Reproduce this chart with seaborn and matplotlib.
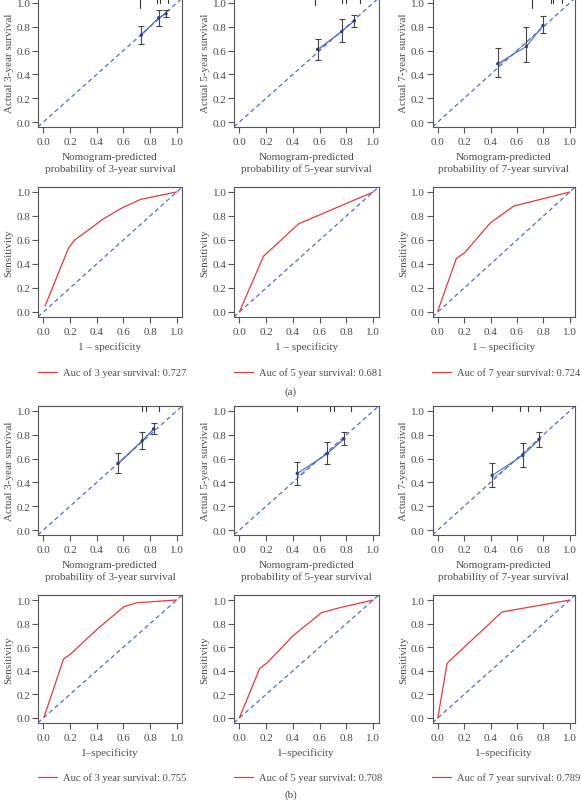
import matplotlib
matplotlib.use('Agg')
import matplotlib.pyplot as plt
import numpy as np
import pandas as pd
import seaborn as sns

# ---- calibration data (nomogram-predicted vs actual) ----
cal_a3_pred = [0.735, 0.865, 0.92]
cal_a3_obs = [0.73, 0.875, 0.91]
cal_a3_lo = [0.655, 0.81, 0.88]
cal_a3_hi = [0.805, 0.945, 0.94]
cal_a3_bc = [0.735, 0.865, 0.92]
cal_a3_bcv = [0.74, 0.87, 0.91]
rug_a3 = [0.724, 0.856, 0.876, 0.938]
rugh_a3 = [0.08, 0.04, 0.04, 0.04]

cal_a5_pred = [0.585, 0.765, 0.86]
cal_a5_obs = [0.61, 0.76, 0.85]
cal_a5_lo = [0.525, 0.675, 0.80]
cal_a5_hi = [0.70, 0.865, 0.90]
cal_a5_bc = [0.585, 0.765, 0.86]
cal_a5_bcv = [0.60, 0.765, 0.85]
rug_a5 = [0.567, 0.766, 0.799, 0.898]
rugh_a5 = [0.05, 0.04, 0.04, 0.04]

cal_a7_pred = [0.455, 0.672, 0.797]
cal_a7_obs = [0.49, 0.635, 0.81]
cal_a7_lo = [0.375, 0.505, 0.745]
cal_a7_hi = [0.625, 0.80, 0.89]
cal_a7_bc = [0.46, 0.57, 0.78]
cal_a7_bcv = [0.48, 0.57, 0.775]
rug_a7 = [0.715, 0.855, 0.875, 0.941]
rugh_a7 = [0.08, 0.04, 0.04, 0.04]

cal_b3_pred = [0.56, 0.741, 0.828]
cal_b3_obs = [0.56, 0.75, 0.85]
cal_b3_lo = [0.476, 0.678, 0.804]
cal_b3_hi = [0.65, 0.82, 0.90]
cal_b3_bc = [0.56, 0.741, 0.828]
cal_b3_bcv = [0.55, 0.745, 0.845]
rug_b3 = [0.741, 0.771, 0.871]
rugh_b3 = [0.04, 0.04, 0.04]

cal_b5_pred = [0.433, 0.657, 0.781]
cal_b5_obs = [0.476, 0.641, 0.767]
cal_b5_lo = [0.38, 0.552, 0.711]
cal_b5_hi = [0.571, 0.742, 0.826]
cal_b5_bc = [0.433, 0.657, 0.781]
cal_b5_bcv = [0.45, 0.645, 0.76]
rug_b5 = [0.433, 0.677, 0.706, 0.836]
rugh_b5 = [0.04, 0.04, 0.04, 0.04]

cal_b7_pred = [0.412, 0.644, 0.768]
cal_b7_obs = [0.459, 0.627, 0.762]
cal_b7_lo = [0.364, 0.529, 0.70]
cal_b7_hi = [0.56, 0.734, 0.824]
cal_b7_bc = [0.412, 0.53, 0.768]
cal_b7_bcv = [0.43, 0.53, 0.755]
rug_b7 = [0.412, 0.626, 0.682, 0.773]
rugh_b7 = [0.04, 0.04, 0.04, 0.04]

# ---- ROC data ----
roc_a3_fpr = [0.013, 0.19, 0.232, 0.453, 0.59, 0.73, 1.0]
roc_a3_tpr = [0.05, 0.536, 0.597, 0.778, 0.867, 0.939, 1.0]
roc_a5_fpr = [0.0, 0.18, 0.443, 1.0]
roc_a5_tpr = [0.0, 0.464, 0.735, 1.0]
roc_a7_fpr = [0.0, 0.141, 0.202, 0.399, 0.576, 1.0]
roc_a7_tpr = [0.008, 0.447, 0.492, 0.743, 0.883, 1.0]
roc_b3_fpr = [0.005, 0.151, 0.202, 0.403, 0.605, 0.70, 1.0]
roc_b3_tpr = [0.006, 0.499, 0.54, 0.752, 0.944, 0.977, 1.0]
roc_b5_fpr = [0.0, 0.152, 0.21, 0.40, 0.614, 0.75, 1.0]
roc_b5_tpr = [0.0, 0.42, 0.47, 0.696, 0.893, 0.935, 1.0]
roc_b7_fpr = [0.0, 0.071, 0.487, 1.0]
roc_b7_tpr = [0.0, 0.465, 0.899, 1.0]

years = ['3', '5', '7']
auc_a = ['0.727', '0.681', '0.724']
auc_b = ['0.755', '0.708', '0.789']
ticks = [0.0, 0.2, 0.4, 0.6, 0.8, 1.0]

sns.set_style('ticks')
plt.rcParams['font.family'] = ['Liberation Serif', 'DejaVu Serif']
plt.rcParams['font.size'] = 8

TXT = '#4d4d4d'
BLUE = '#5070cc'
RED = '#e8393c'
GRAY = '#555555'
FS = 8

W, H = 582, 804
fig = plt.figure(figsize=(W / 100, H / 100), dpi=100)

cols = [(38, 182), (234, 378.5), (432.5, 575)]
rows = [(-0.8, 127.8), (188.2, 317.8), (407.2, 535.8), (596.3, 723.7)]


def make_ax(r, c):
    l, rr = cols[c]
    t, b = rows[r]
    ax = fig.add_axes([l / W, 1 - b / H, (rr - l) / W, (b - t) / H])
    ax.set_xlim(-0.04, 1.04)
    ax.set_ylim(-0.04, 1.04)
    ax.set_xticks(ticks)
    ax.set_yticks(ticks)
    ax.set_xticklabels([f'{v:.1f}' for v in ticks])
    ax.set_yticklabels([f'{v:.1f}' for v in ticks])
    ax.tick_params(length=4, width=0.8, color=GRAY, labelcolor=TXT,
                   labelsize=FS, pad=1.5)
    ax.tick_params(axis='x', pad=3.5)
    for s in ax.spines.values():
        s.set_visible(True)
        s.set_color(GRAY)
        s.set_linewidth(0.8)
    ax.plot([-0.04, 1.04], [-0.04, 1.04], ls=(0, (3.5, 2.5)), color=BLUE, lw=0.9)
    return ax


def calib(ax, pred, obs, lo, hi, bc, bcv, rug, rugh, yr):
    df = pd.DataFrame({'pred': pred, 'obs': obs})
    dfb = pd.DataFrame({'pred': bc, 'obs': bcv})
    sns.lineplot(data=dfb, x='pred', y='obs', ax=ax, color=BLUE, lw=0.6,
                 alpha=0.8, estimator=None, sort=False)
    sns.lineplot(data=df, x='pred', y='obs', ax=ax, color=BLUE, lw=0.8,
                 estimator=None, sort=False)
    sns.scatterplot(data=df, x='pred', y='obs', ax=ax, color='#2b3f99',
                    s=6, edgecolor='none', zorder=4)
    ax.errorbar(pred, obs, yerr=[np.array(obs) - np.array(lo),
                                 np.array(hi) - np.array(obs)],
                fmt='none', ecolor='#444444', elinewidth=0.8, capsize=2,
                capthick=0.8, zorder=5)
    for x, h in zip(rug, rugh):
        ax.plot([x, x], [1, 1 - h], transform=ax.get_xaxis_transform(),
                color='#333333', lw=0.8, clip_on=False)
    ax.set_ylabel(f'Actual {yr}-year survival', color=TXT, fontsize=FS,
                  labelpad=2)
    ax.set_xlabel(f'Nomogram-predicted\nprobability of {yr}-year survival',
                  color=TXT, fontsize=FS, labelpad=4, linespacing=1.3)


def roc(ax, fpr, tpr, yr, auc, xl):
    df = pd.DataFrame({'fpr': fpr, 'tpr': tpr})
    sns.lineplot(data=df, x='fpr', y='tpr', ax=ax, color=RED, lw=0.9,
                 estimator=None, sort=False,
                 label=f'Auc of {yr} year survival: {auc}')
    ax.set_ylabel('Sensitivity', color=TXT, fontsize=FS, labelpad=2)
    ax.set_xlabel(xl, color=TXT, fontsize=FS, labelpad=3.5)
    leg = ax.legend(loc='upper left', bbox_to_anchor=(-0.03, -0.36),
                    frameon=False, fontsize=7.6, handlelength=1.8,
                    handletextpad=0.55, borderaxespad=0)
    for t in leg.get_texts():
        t.set_color(TXT)


cal_a = [(cal_a3_pred, cal_a3_obs, cal_a3_lo, cal_a3_hi, cal_a3_bc, cal_a3_bcv, rug_a3, rugh_a3),
         (cal_a5_pred, cal_a5_obs, cal_a5_lo, cal_a5_hi, cal_a5_bc, cal_a5_bcv, rug_a5, rugh_a5),
         (cal_a7_pred, cal_a7_obs, cal_a7_lo, cal_a7_hi, cal_a7_bc, cal_a7_bcv, rug_a7, rugh_a7)]
cal_b = [(cal_b3_pred, cal_b3_obs, cal_b3_lo, cal_b3_hi, cal_b3_bc, cal_b3_bcv, rug_b3, rugh_b3),
         (cal_b5_pred, cal_b5_obs, cal_b5_lo, cal_b5_hi, cal_b5_bc, cal_b5_bcv, rug_b5, rugh_b5),
         (cal_b7_pred, cal_b7_obs, cal_b7_lo, cal_b7_hi, cal_b7_bc, cal_b7_bcv, rug_b7, rugh_b7)]
roc_a = [(roc_a3_fpr, roc_a3_tpr), (roc_a5_fpr, roc_a5_tpr), (roc_a7_fpr, roc_a7_tpr)]
roc_b = [(roc_b3_fpr, roc_b3_tpr), (roc_b5_fpr, roc_b5_tpr), (roc_b7_fpr, roc_b7_tpr)]

for c in range(3):
    calib(make_ax(0, c), *cal_a[c], years[c])
    roc(make_ax(1, c), *roc_a[c], years[c], auc_a[c], '1 \u2013 specificity')
    calib(make_ax(2, c), *cal_b[c], years[c])
    roc(make_ax(3, c), *roc_b[c], years[c], auc_b[c], '1\u2013specificity')

fig.text(291 / W, 1 - 392 / H, '(a)', ha='center', va='center', color=TXT,
         fontsize=FS)
fig.text(291 / W, 1 - 795 / H, '(b)', ha='center', va='center', color=TXT,
         fontsize=FS)

fig.savefig('out.png', dpi=100, facecolor='white')
